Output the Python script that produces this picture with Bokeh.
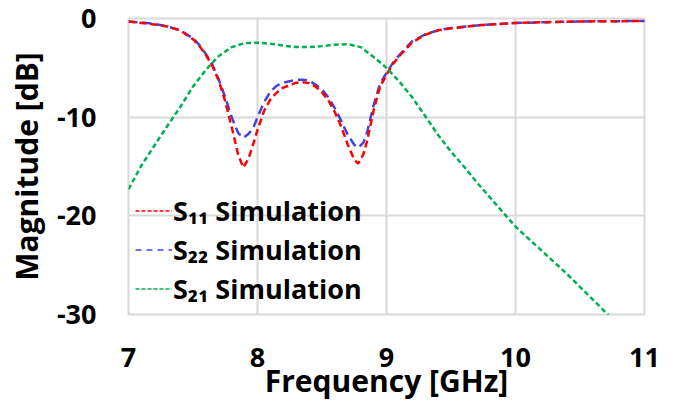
from bokeh.plotting import figure
from bokeh.models import Range1d, Legend, LegendItem, FixedTicker, ColumnDataSource
from bokeh.embed import file_html
from bokeh.resources import INLINE

# ---- data ----
f_s11 = [7.0, 7.1, 7.2, 7.3, 7.4, 7.5, 7.55, 7.6, 7.65, 7.7, 7.75, 7.8, 7.85, 7.89, 7.93, 7.97,
         8.0, 8.05, 8.1, 8.15, 8.2, 8.3, 8.35, 8.4, 8.45, 8.5, 8.55, 8.6, 8.65, 8.7, 8.75, 8.78,
         8.82, 8.85, 8.9, 8.95, 9.0, 9.05, 9.1, 9.2, 9.3, 9.4, 9.5, 9.7, 10.0, 10.5, 11.0]
s11 = [-0.3, -0.45, -0.6, -0.8, -1.2, -2.1, -2.8, -3.7, -4.8, -6.3, -8.4, -11.0, -13.8, -15.1, -14.2, -12.6,
       -11.3, -9.4, -8.2, -7.5, -7.0, -6.5, -6.45, -6.55, -6.9, -7.5, -8.3, -9.5, -11.0, -12.8, -14.3, -14.7,
       -13.8, -12.4, -9.3, -6.9, -5.7, -4.6, -3.8, -2.4, -1.65, -1.2, -1.0, -0.7, -0.45, -0.3, -0.25]

f_s22 = [7.0, 7.1, 7.2, 7.3, 7.4, 7.5, 7.55, 7.6, 7.65, 7.7, 7.75, 7.8, 7.85, 7.89, 7.93, 7.97,
         8.0, 8.05, 8.1, 8.15, 8.2, 8.3, 8.35, 8.4, 8.45, 8.5, 8.55, 8.6, 8.65, 8.7, 8.75, 8.78,
         8.82, 8.85, 8.9, 8.95, 9.0, 9.05, 9.1, 9.2, 9.3, 9.4, 9.5, 9.7, 10.0, 10.5, 11.0]
s22 = [-0.3, -0.4, -0.55, -0.8, -1.2, -2.0, -2.7, -3.6, -4.7, -6.2, -8.0, -10.0, -11.6, -12.1, -11.7, -11.0,
       -10.0, -8.5, -7.4, -6.8, -6.5, -6.2, -6.2, -6.3, -6.7, -7.2, -8.0, -9.1, -10.4, -11.8, -12.8, -13.1,
       -12.6, -11.5, -8.8, -6.6, -5.5, -4.5, -3.7, -2.3, -1.6, -1.2, -0.95, -0.7, -0.45, -0.3, -0.25]

f_s21 = [7.0, 7.1, 7.2, 7.3, 7.4, 7.5, 7.6, 7.7, 7.8, 7.9, 8.0, 8.1, 8.2, 8.3, 8.4, 8.5, 8.6, 8.7,
         8.8, 8.9, 9.0, 9.1, 9.2, 9.3, 9.4, 9.5, 9.6, 9.7, 9.8, 9.9, 10.0, 10.2, 10.4, 10.6, 10.8, 11.0]
s21 = [-17.3, -14.9, -12.9, -10.9, -9.0, -6.9, -5.2, -3.8, -2.9, -2.5, -2.45, -2.55, -2.75, -2.9, -2.9, -2.8, -2.65, -2.6,
       -2.9, -3.9, -5.0, -6.4, -8.0, -9.9, -11.8, -13.5, -15.0, -16.6, -18.1, -19.6, -21.1, -23.5, -25.9, -28.5, -31.1, -33.7]

x_ticks = [7, 8, 9, 10, 11]
y_ticks = [0, -10, -20, -30]
y_tick_labels = ["0", "-10", "-20", "-30"]
labels = ["S\u2081\u2081 Simulation", "S\u2082\u2082 Simulation", "S\u2082\u2081 Simulation"]

FONT = "Open Sans"
RED, BLUE, GREEN = "#ff0000", "#4343db", "#00b050"

p = figure(width=678, height=407, output_backend="svg", toolbar_location=None,
           x_range=Range1d(7, 11), y_range=Range1d(-30, 0),
           min_border_left=128, min_border_right=34, min_border_top=18, min_border_bottom=93)

p.background_fill_color = "white"
p.border_fill_color = "white"
p.outline_line_color = "#d9d9d9"
p.outline_line_width = 2

for ax in (p.xaxis[0], p.yaxis[0]):
    ax.axis_line_color = None
    ax.major_tick_line_color = None
    ax.minor_tick_line_color = None
    ax.major_tick_out = 0
    ax.major_tick_in = 0
    ax.major_label_text_font = FONT
    ax.major_label_text_font_style = "bold"
    ax.major_label_text_font_size = "27px"
    ax.major_label_text_color = "black"
    ax.axis_label_text_font = FONT
    ax.axis_label_text_font_style = "bold"
    ax.axis_label_text_font_size = "30px"
    ax.axis_label_text_color = "black"

p.xaxis.ticker = FixedTicker(ticks=x_ticks)
p.yaxis.ticker = FixedTicker(ticks=y_ticks)
p.yaxis.major_label_overrides = {t: s for t, s in zip(y_ticks, y_tick_labels)}
p.xaxis.axis_label = "Frequency [GHz]"
p.yaxis.axis_label = "Magnitude [dB]"
p.xaxis.major_label_standoff = 33
p.yaxis.major_label_standoff = 32
p.xaxis.axis_label_standoff = -10
p.yaxis.axis_label_standoff = 7

p.xgrid.grid_line_color = "#d9d9d9"
p.ygrid.grid_line_color = "#d9d9d9"
p.xgrid.grid_line_width = 2
p.ygrid.grid_line_width = 2

p.line(f_s22, s22, line_color=BLUE, line_width=2.5, line_dash="9 5")
p.line(f_s11, s11, line_color=RED, line_width=2.5, line_dash="7 4")
p.line(f_s21, s21, line_color=GREEN, line_width=2.5, line_dash="5 3")

# thin legend samples (sources hold a single NaN point, nothing drawn in the plot)
nan = float("nan")
l1 = p.line("x", "y", source=ColumnDataSource(dict(x=[nan], y=[nan])), line_color=RED, line_width=1.5, line_dash="4 2")
l2 = p.line("x", "y", source=ColumnDataSource(dict(x=[nan], y=[nan])), line_color=BLUE, line_width=1.5, line_dash="6 5")
l3 = p.line("x", "y", source=ColumnDataSource(dict(x=[nan], y=[nan])), line_color=GREEN, line_width=1.5, line_dash="4 2")

legend = Legend(items=[LegendItem(label=labels[0], renderers=[l1]),
                       LegendItem(label=labels[1], renderers=[l2]),
                       LegendItem(label=labels[2], renderers=[l3])],
                location=(7, 6), orientation="vertical")
legend.background_fill_alpha = 0
legend.border_line_color = None
legend.padding = 0
legend.margin = 0
legend.spacing = 0
legend.glyph_width = 37
legend.glyph_height = 39
legend.label_height = 39
legend.label_standoff = 1
legend.label_text_font = FONT
legend.label_text_font_style = "bold"
legend.label_text_font_size = "27px"
legend.label_text_color = "black"
legend.label_text_baseline = "middle"
p.add_layout(legend, "center")

open("out.html", "w").write(file_html(p, INLINE))
